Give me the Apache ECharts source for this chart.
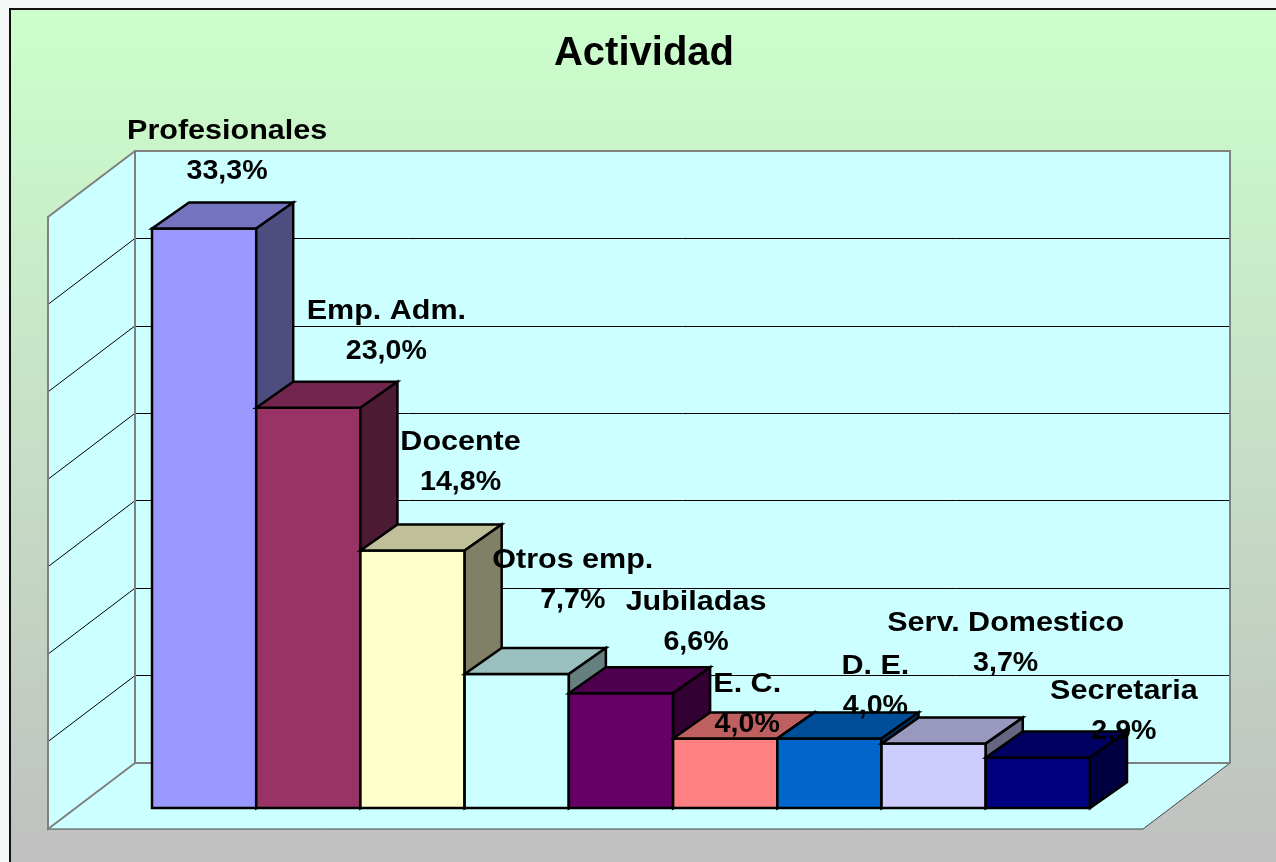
<!DOCTYPE html>
<html><head><meta charset="utf-8">
<script src="https://cdn.jsdelivr.net/npm/echarts@6/dist/echarts.min.js"></script>
<style>
html,body{margin:0;padding:0;width:1276px;height:862px;overflow:hidden;background:#f3f7f6;}
#frame{position:absolute;left:9px;top:8px;width:1300px;height:900px;border:2px solid #111;background:linear-gradient(to bottom,#ccffcc 0px,#c0c0c0 854px);}
#main{position:absolute;left:0;top:0;width:1276px;height:862px;}
</style></head><body>
<div id="frame"></div><div id="main"></div>
<script>
// ---- data ----
const categories = ['Profesionales', 'Emp. Adm.', 'Docente', 'Otros emp.', 'Jubiladas', 'E. C.', 'D. E.', 'Serv. Domestico', 'Secretaria'];
const values = [33.3, 23.0, 14.8, 7.7, 6.6, 4.0, 4.0, 3.7, 2.9];
const yTicks = [0, 5, 10, 15, 20, 25, 30, 35];

// ---- styles / layout ----
const frontColors = ['#9999ff', '#993366', '#ffffcc', '#ccffff', '#660066', '#ff8080', '#0066cc', '#ccccff', '#000080'];
const topColors   = ['#7373bf', '#73264d', '#bfbf99', '#99bfbf', '#4d004d', '#bf6060', '#004d99', '#9999bf', '#000060'];
const sideColors  = ['#4d4d80', '#4d1a33', '#808066', '#668080', '#330033', '#804040', '#003366', '#666680', '#000040'];
const labelShiftX = [23, 78, 48, 56, 75, 22, 46, 72, 86];
const labelShiftY = [-47, -47, -58, -64, -41, -4, -22, -70, -16];
const BAR_DEPTH = [37, -26];
const WALL_DEPTH = [-87, 66];
const FONT = '"Liberation Sans", Arial, Helvetica, sans-serif';

function fmt(v) { return v.toFixed(1).replace('.', ',') + '%'; }

const chart = echarts.init(document.getElementById('main'), null, {renderer: 'canvas'});

const option = {
  animation: false,
  backgroundColor: 'transparent',
  title: {
    text: 'Actividad', left: 639, top: 29, textAlign: 'center',
    textStyle: {fontSize: 40, fontWeight: 'bold', fontFamily: FONT, color: '#000'}
  },
  grid: [
    {left: 135, top: 151, width: 1095, height: 612, show: true, backgroundColor: '#ccffff', borderWidth: 0},
    {left: 152, top: 199, width: 938, height: 609, show: false}
  ],
  xAxis: [
    {type: 'value', gridIndex: 0, min: 0, max: 1, show: false},
    {type: 'category', gridIndex: 1, data: categories, boundaryGap: true,
     axisLine: {show: false}, axisLabel: {show: false},
     axisTick: {show: true, length: 3, lineStyle: {color: '#000', width: 1}}}
  ],
  yAxis: [
    {type: 'value', gridIndex: 0, min: 0, max: 35, interval: 5,
     axisLine: {show: false}, axisTick: {show: false}, axisLabel: {show: false},
     splitLine: {show: true, showMinLine: false, showMaxLine: false, lineStyle: {color: '#000', width: 1}}},
    {type: 'value', gridIndex: 1, min: 0, max: 35, interval: 5, show: false, splitLine: {show: false}}
  ],
  series: [
    {
      type: 'custom', xAxisIndex: 0, yAxisIndex: 0, z: 1, clip: false, silent: true,
      data: [[0, 0]],
      renderItem: function (params, api) {
        const bl = api.coord([0, 0]), br = api.coord([1, 0]);
        const tl = api.coord([0, 35]), tr = api.coord([1, 35]);
        const D = WALL_DEPTH;
        const sh = p => [p[0] + D[0], p[1] + D[1]];
        const ch = [];
        ch.push({type: 'polygon', shape: {points: [tl, sh(tl), sh(bl), bl]}, style: {fill: '#ccffff'}});
        ch.push({type: 'polygon', shape: {points: [bl, br, sh(br), sh(bl)]}, style: {fill: '#ccffff'}});
        yTicks.slice(1, -1).forEach(v => {
          const p = api.coord([0, v]);
          ch.push({type: 'line', shape: {x1: p[0], y1: p[1], x2: p[0] + D[0], y2: p[1] + D[1]}, style: {stroke: '#000', lineWidth: 1}});
        });
        ch.push({type: 'polyline', shape: {points: [sh(bl), sh(br), br]}, style: {stroke: '#404848', lineWidth: 1, fill: null}});
        ch.push({type: 'polygon', shape: {points: [tl, tr, br, bl]}, style: {stroke: '#808080', lineWidth: 2, fill: null}});
        ch.push({type: 'polyline', shape: {points: [bl, sh(bl), sh(tl), tl]}, style: {stroke: '#808080', lineWidth: 2, fill: null}});
        return {type: 'group', children: ch};
      }
    },
    {
      type: 'custom', xAxisIndex: 1, yAxisIndex: 1, z: 3, clip: false,
      data: values.map((v, i) => [i, v]),
      renderItem: function (params, api) {
        const i = api.value(0), v = api.value(1);
        const base = api.coord([i, 0]), top = api.coord([i, v]);
        const w = api.size([1, 0])[0];
        const xl = base[0] - w / 2, xr = base[0] + w / 2, yb = base[1], yt = top[1];
        const dx = BAR_DEPTH[0], dy = BAR_DEPTH[1];
        const ls = {stroke: '#000', lineWidth: 2.5, lineJoin: 'miter'};
        return {
          type: 'group',
          children: [
            {type: 'polygon', shape: {points: [[xl, yt], [xr, yt], [xr, yb], [xl, yb]]}, style: Object.assign({fill: frontColors[i]}, ls)},
            {type: 'polygon', shape: {points: [[xl, yt], [xl + dx, yt + dy], [xr + dx, yt + dy], [xr, yt]]}, style: Object.assign({fill: topColors[i]}, ls)},
            {type: 'polygon', shape: {points: [[xr, yt], [xr + dx, yt + dy], [xr + dx, yb + dy], [xr, yb]]}, style: Object.assign({fill: sideColors[i]}, ls)}
          ]
        };
      }
    },
    {
      type: 'custom', xAxisIndex: 1, yAxisIndex: 1, z: 5, clip: false, silent: true,
      data: values.map((v, i) => [i, v]),
      renderItem: function (params, api) {
        const i = api.value(0), v = api.value(1);
        const top = api.coord([i, v]);
        const cx = top[0] + labelShiftX[i];
        const by = top[1] + labelShiftY[i];
        const fs = 27;
        const mid = fs * 0.36;
        return {
          type: 'group',
          children: [
            {type: 'text', x: cx, y: by - 40 - mid, scaleX: 1.13,
             style: {text: categories[i], x: 0, y: 0, fill: '#000', font: 'bold ' + fs + 'px ' + FONT, align: 'center', verticalAlign: 'middle'}},
            {type: 'text', x: cx, y: by - mid, scaleX: 1.06,
             style: {text: fmt(v), x: 0, y: 0, fill: '#000', font: 'bold ' + fs + 'px ' + FONT, align: 'center', verticalAlign: 'middle'}}
          ]
        };
      }
    }
  ]
};
chart.setOption(option);
</script>
</body></html>
